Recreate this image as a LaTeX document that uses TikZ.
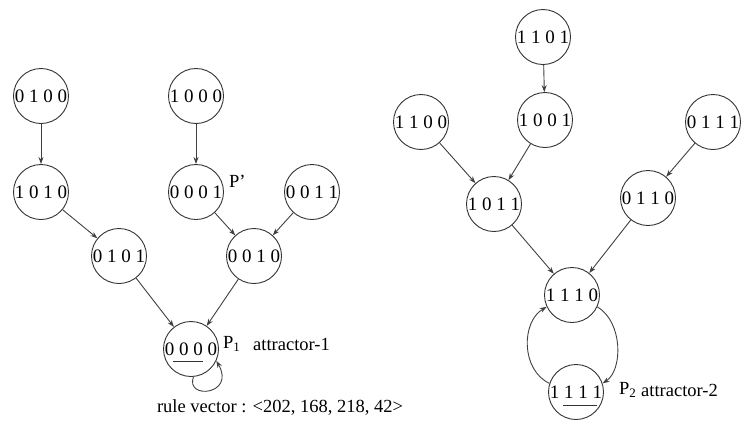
\documentclass[tikz,border=0pt]{standalone}
\usepackage{fontspec}
\setmainfont{Liberation Serif}
\usetikzlibrary{arrows.meta}
\begin{document}
\begin{tikzpicture}[x=1pt,y=-1pt,
  state/.style={circle,draw=black!80,line width=0.9pt,minimum size=55pt,inner sep=0pt,
    font=\fontsize{19}{22}\selectfont},
  lbl/.style={inner sep=0pt,font=\fontsize{18.5}{22}\selectfont},
  edge/.style={draw=black!75,line width=0.9pt,-{Stealth[length=7pt,width=5pt]}}]
\useasboundingbox (0,0) rectangle (741,429);
\clip (0,0) rectangle (741,429);

% left tree: attractor-1
\node[state] (a0100) at (41,96)  {0 1 0 0};
\node[state] (a1010) at (41,192) {1 0 1 0};
\node[state] (a1000) at (196,96) {1 0 0 0};
\node[state] (a0001) at (196,192) {0 0 0 1};
\node[state] (a0011) at (312,192) {0 0 1 1};
\node[state] (a0101) at (119,256) {0 1 0 1};
\node[state] (a0010) at (254,256) {0 0 1 0};
\node[state] (a0000) at (191,349) {0 0 0 0};

\node[lbl,anchor=west] (pp) at (229,181) {P'};
\node[lbl,anchor=west] (p1) at (223,344) {P\textsubscript{1}};
\node[lbl,anchor=west] (att1) at (253,344) {attractor-1};

\draw[edge] (a0100) -- (a1010);
\draw[edge] (a1010) -- (a0101);
\draw[edge] (a1000) -- (a0001);
\draw[edge] (a0001) -- (a0010);
\draw[edge] (a0011) -- (a0010);
\draw[edge] (a0101) -- (a0000);
\draw[edge] (a0010) -- (a0000);
\draw[edge] (a0000.-85) .. controls (185,400) and (236,395) .. (a0000.-25);
\draw[black!80,line width=0.9pt] ([shift={(-18,12)}]a0000.center) -- ([shift={(12,12)}]a0000.center);

% right tree: attractor-2
\node[state] (b1101) at (543,37)  {1 1 0 1};
\node[state] (b1001) at (545,120) {1 0 0 1};
\node[state] (b1100) at (421,122) {1 1 0 0};
\node[state] (b0111) at (713,122) {0 1 1 1};
\node[state] (b1011) at (494,204) {1 0 1 1};
\node[state] (b0110) at (648,198) {0 1 1 0};
\node[state] (b1110) at (572,295) {1 1 1 0};
\node[state] (b1111) at (576,392) {1 1 1 1};

\node[lbl,anchor=west] (p2) at (619,390) {P\textsubscript{2}};
\node[lbl,anchor=west] (att2) at (641,390) {attractor-2};

\draw[edge] (b1101) -- (b1001);
\draw[edge] (b1100) -- (b1011);
\draw[edge] (b1001) -- (b1011);
\draw[edge] (b0111) -- (b0110);
\draw[edge] (b1011) -- (b1110);
\draw[edge] (b0110) -- (b1110);
\draw[edge] (b1111.162) .. controls (521,370) and (521,322) .. (b1110.205);
\draw[edge] (b1110.-25) .. controls (623,322) and (623,370) .. (b1111.18);
\draw[black!80,line width=0.9pt] ([shift={(-13,13)}]b1111.center) -- ([shift={(21,13)}]b1111.center);

% rule vector caption
\node[lbl] (rule) at (280,407) {rule vector : <202, 168, 218, 42>};
\end{tikzpicture}
\end{document}
